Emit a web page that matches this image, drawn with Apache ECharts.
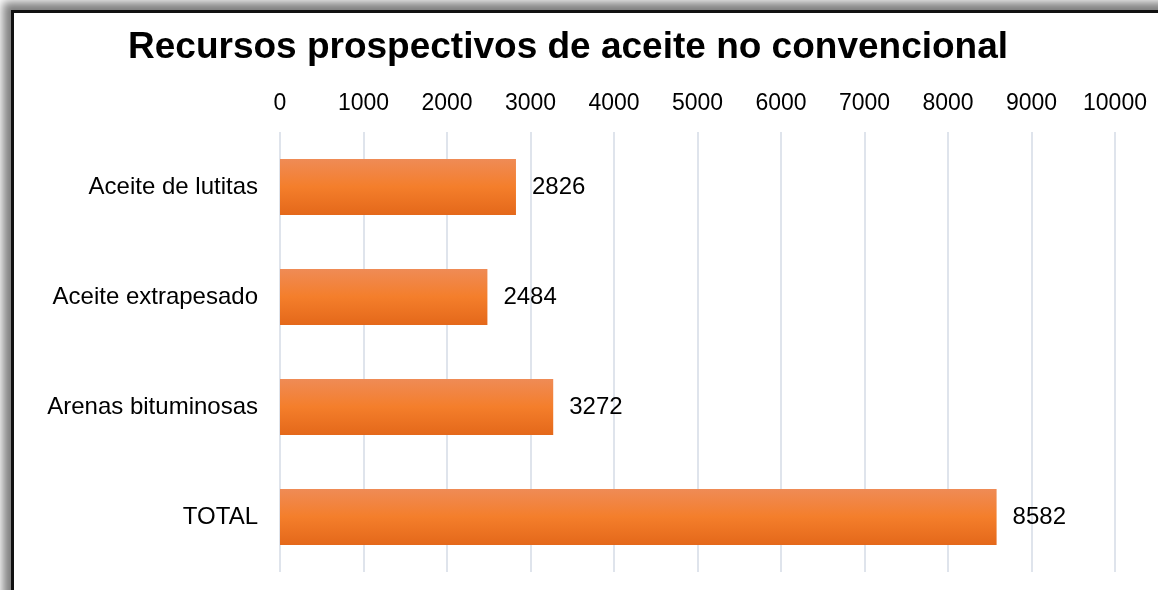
<!DOCTYPE html>
<html>
<head>
<meta charset="utf-8">
<script src="https://cdn.jsdelivr.net/npm/echarts@6/dist/echarts.min.js"></script>
<style>
  html, body { margin: 0; padding: 0; background: #fff; overflow: hidden; }
  #frame {
    position: absolute; left: 11px; top: 10px; width: 1300px; height: 800px;
    border: 3px solid #111; box-shadow: -3px -3px 9px 5px rgba(0,0,0,0.5);
    background: #fff;
  }
  #chart { position: absolute; left: 0; top: 0; width: 1158px; height: 590px; }
</style>
</head>
<body>
<div id="frame"></div>
<div id="chart"></div>
<script>
// datos del gráfico
const categorias = ['Aceite de lutitas', 'Aceite extrapesado', 'Arenas bituminosas', 'TOTAL'];
const valores = [2826, 2484, 3272, 8582];
const titulo = 'Recursos prospectivos de aceite no convencional';

const chart = echarts.init(document.getElementById('chart'));
const option = {
  backgroundColor: 'transparent',
  textStyle: { fontFamily: 'Liberation Sans, Arial, sans-serif' },
  title: {
    text: titulo,
    left: 123,
    top: 24,
    textStyle: { fontSize: 37, fontWeight: 'bold', color: '#000', fontFamily: 'Liberation Sans, Arial, sans-serif' }
  },
  grid: { left: 280, right: 43, top: 132, bottom: 18 },
  xAxis: {
    type: 'value',
    position: 'top',
    min: 0,
    max: 10000,
    interval: 1000,
    axisLine: { show: false },
    axisTick: { show: false },
    axisLabel: { fontSize: 23, color: '#000', margin: 17, formatter: v => String(v) },
    splitLine: { lineStyle: { color: '#dfe4ec', width: 2 } }
  },
  yAxis: {
    type: 'category',
    inverse: true,
    data: categorias,
    axisLine: { show: false },
    axisTick: { show: false },
    axisLabel: { fontSize: 24, color: '#000', margin: 22 }
  },
  series: [{
    type: 'bar',
    data: valores,
    barWidth: 56,
    itemStyle: {
      color: new echarts.graphic.LinearGradient(0, 0, 0, 1, [
        { offset: 0, color: '#ef8b56' },
        { offset: 0.5, color: '#f47e2b' },
        { offset: 1, color: '#e4681a' }
      ])
    },
    label: { show: true, position: 'right', distance: 16, fontSize: 24, color: '#000' }
  }]
};
chart.setOption(option);
</script>
</body>
</html>
